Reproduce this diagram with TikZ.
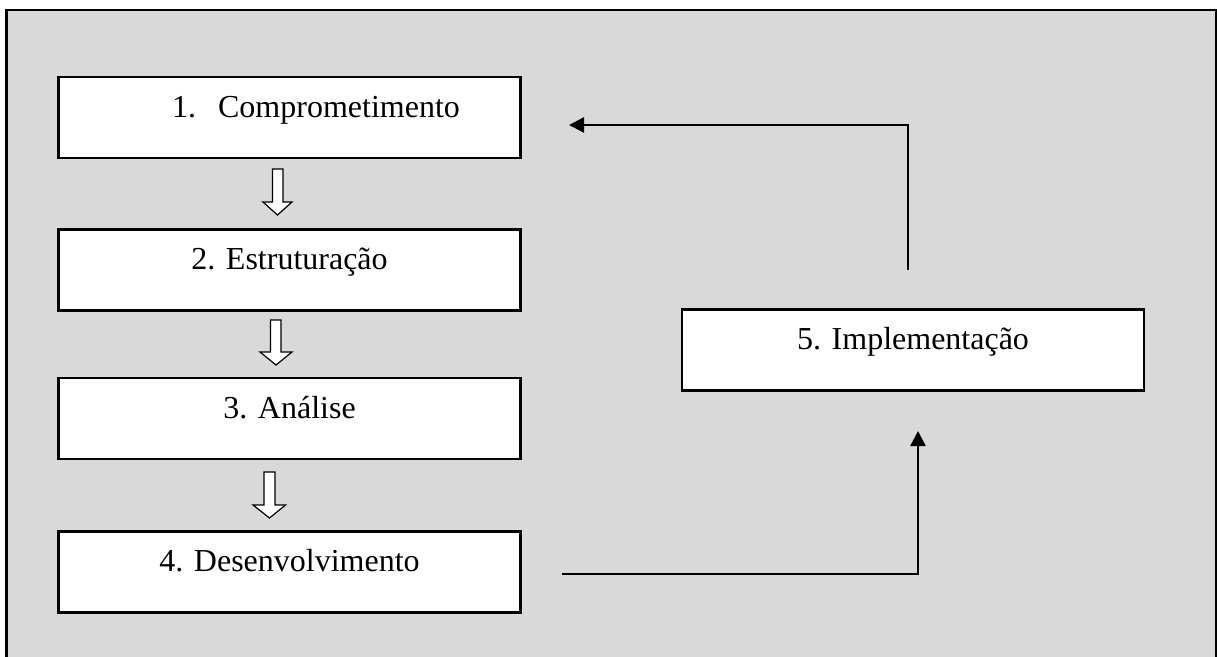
\documentclass[tikz,border=0pt]{standalone}
\usepackage{fontspec}
\setmainfont{Liberation Serif}
\usetikzlibrary{arrows.meta}
\definecolor{bggray}{HTML}{D9D9D9}
\begin{document}
\begin{tikzpicture}[x=1pt,y=-1pt,
  stagebox/.style={draw=black, line width=2.2pt, fill=white, inner sep=0pt,
    minimum width=462pt, minimum height=81pt, text height=40pt, text depth=41pt,
    font=\fontsize{32}{32}\selectfont},
  conn/.style={line width=2.4pt, -{Triangle[length=15pt,width=15pt]}},
  hollow/.style={draw=black, line width=1.2pt, fill=white}]
\useasboundingbox (0,0) rectangle (1217,656);
\begin{scope}
\clip (0,0) rectangle (1217,656);
\draw[line width=2.2pt, fill=bggray] (6.5,10) rectangle (1216,700);
\end{scope}
\node[stagebox] (b1) at (289.5,117.5) {\hspace*{53pt}1.\hspace{22pt}Comprometimento};
\node[stagebox] (b2) at (289.5,270) {2. Estruturação};
\node[stagebox] (b3) at (289.5,418.5) {3. Análise};
\node[stagebox] (b4) at (289.5,572) {4. Desenvolvimento};
\node[stagebox] (b5) at (913,350) {5. Implementação};
% hollow block arrows
\draw[hollow] (272.5,169) -- (283,169) -- (283,202) -- (292,202) -- (277.5,215) -- (263,202) -- (272.5,202) -- cycle;
\draw[hollow] (270.5,320) -- (281,320) -- (281,352) -- (292,352) -- (276,365) -- (260,352) -- (270.5,352) -- cycle;
\draw[hollow] (264,472) -- (275,472) -- (275,505) -- (285.5,505) -- (269.5,518) -- (253,505) -- (264,505) -- cycle;
% connectors
\coordinate (fbstart) at (908,270);
\coordinate (fbend) at (569,125);
\coordinate (fwstart) at (562,574);
\coordinate (fwend) at (918,431);
\draw[conn] (fbstart) |- (fbend);
\draw[conn] (fwstart) -| (fwend);
\end{tikzpicture}
\end{document}
